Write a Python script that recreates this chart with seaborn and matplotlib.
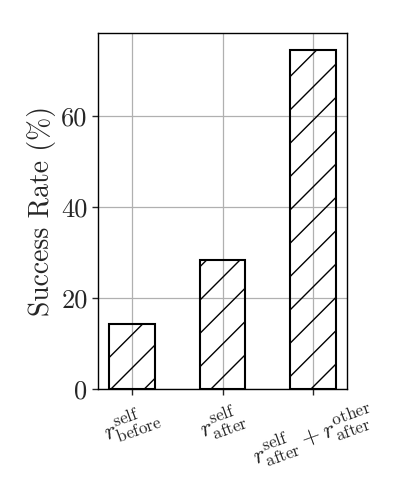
import matplotlib
matplotlib.use("Agg")
import matplotlib.pyplot as plt
import seaborn as sns
import pandas as pd

categories = [r"$r^{\mathrm{self}}_{\mathrm{before}}$",
              r"$r^{\mathrm{self}}_{\mathrm{after}}$",
              r"$r^{\mathrm{self}}_{\mathrm{after}} + r^{\mathrm{other}}_{\mathrm{after}}$"]
success_rate = [14.2, 28.3, 74.6]
yticks = [0, 20, 40, 60]

sns.set_style("ticks")
plt.rcParams["font.family"] = "serif"
plt.rcParams["font.serif"] = ["cmr10", "DejaVu Serif"]
plt.rcParams["mathtext.fontset"] = "cm"
plt.rcParams["axes.formatter.use_mathtext"] = True
plt.rcParams["axes.unicode_minus"] = False
plt.rcParams["hatch.linewidth"] = 1.0

df = pd.DataFrame({"cat": categories, "val": success_rate})

fig = plt.figure(figsize=(3.99, 4.98), dpi=100)
ax = fig.add_axes([98/399, 1-389/498, (347-98)/399, (389-33)/498])

sns.barplot(data=df, x="cat", y="val", ax=ax, color="white", edgecolor="black",
            linewidth=1.5, width=0.5, hatch="/", zorder=1)
for p in ax.patches:
    p.set_facecolor("none")

ax.grid(True, color="#b0b0b0", linewidth=0.9)
ax.set_axisbelow(True)
ax.set_ylim(0, 78.3)
ax.set_xlim(-0.375, 2.375)
ax.set_yticks(yticks)
ax.set_yticklabels([str(v) for v in yticks], fontsize=19)
ax.set_xlabel("")
ax.set_ylabel("Success Rate (%)", fontsize=20)
ax.tick_params(axis="x", labelsize=17.5, rotation=20, length=4, width=1)
ax.tick_params(axis="y", length=4, width=1)
for lbl in ax.get_xticklabels():
    lbl.set_ha("center")
for s in ax.spines.values():
    s.set_visible(True)
    s.set_linewidth(1.0)
    s.set_color("black")

fig.savefig("out.png", dpi=100)
